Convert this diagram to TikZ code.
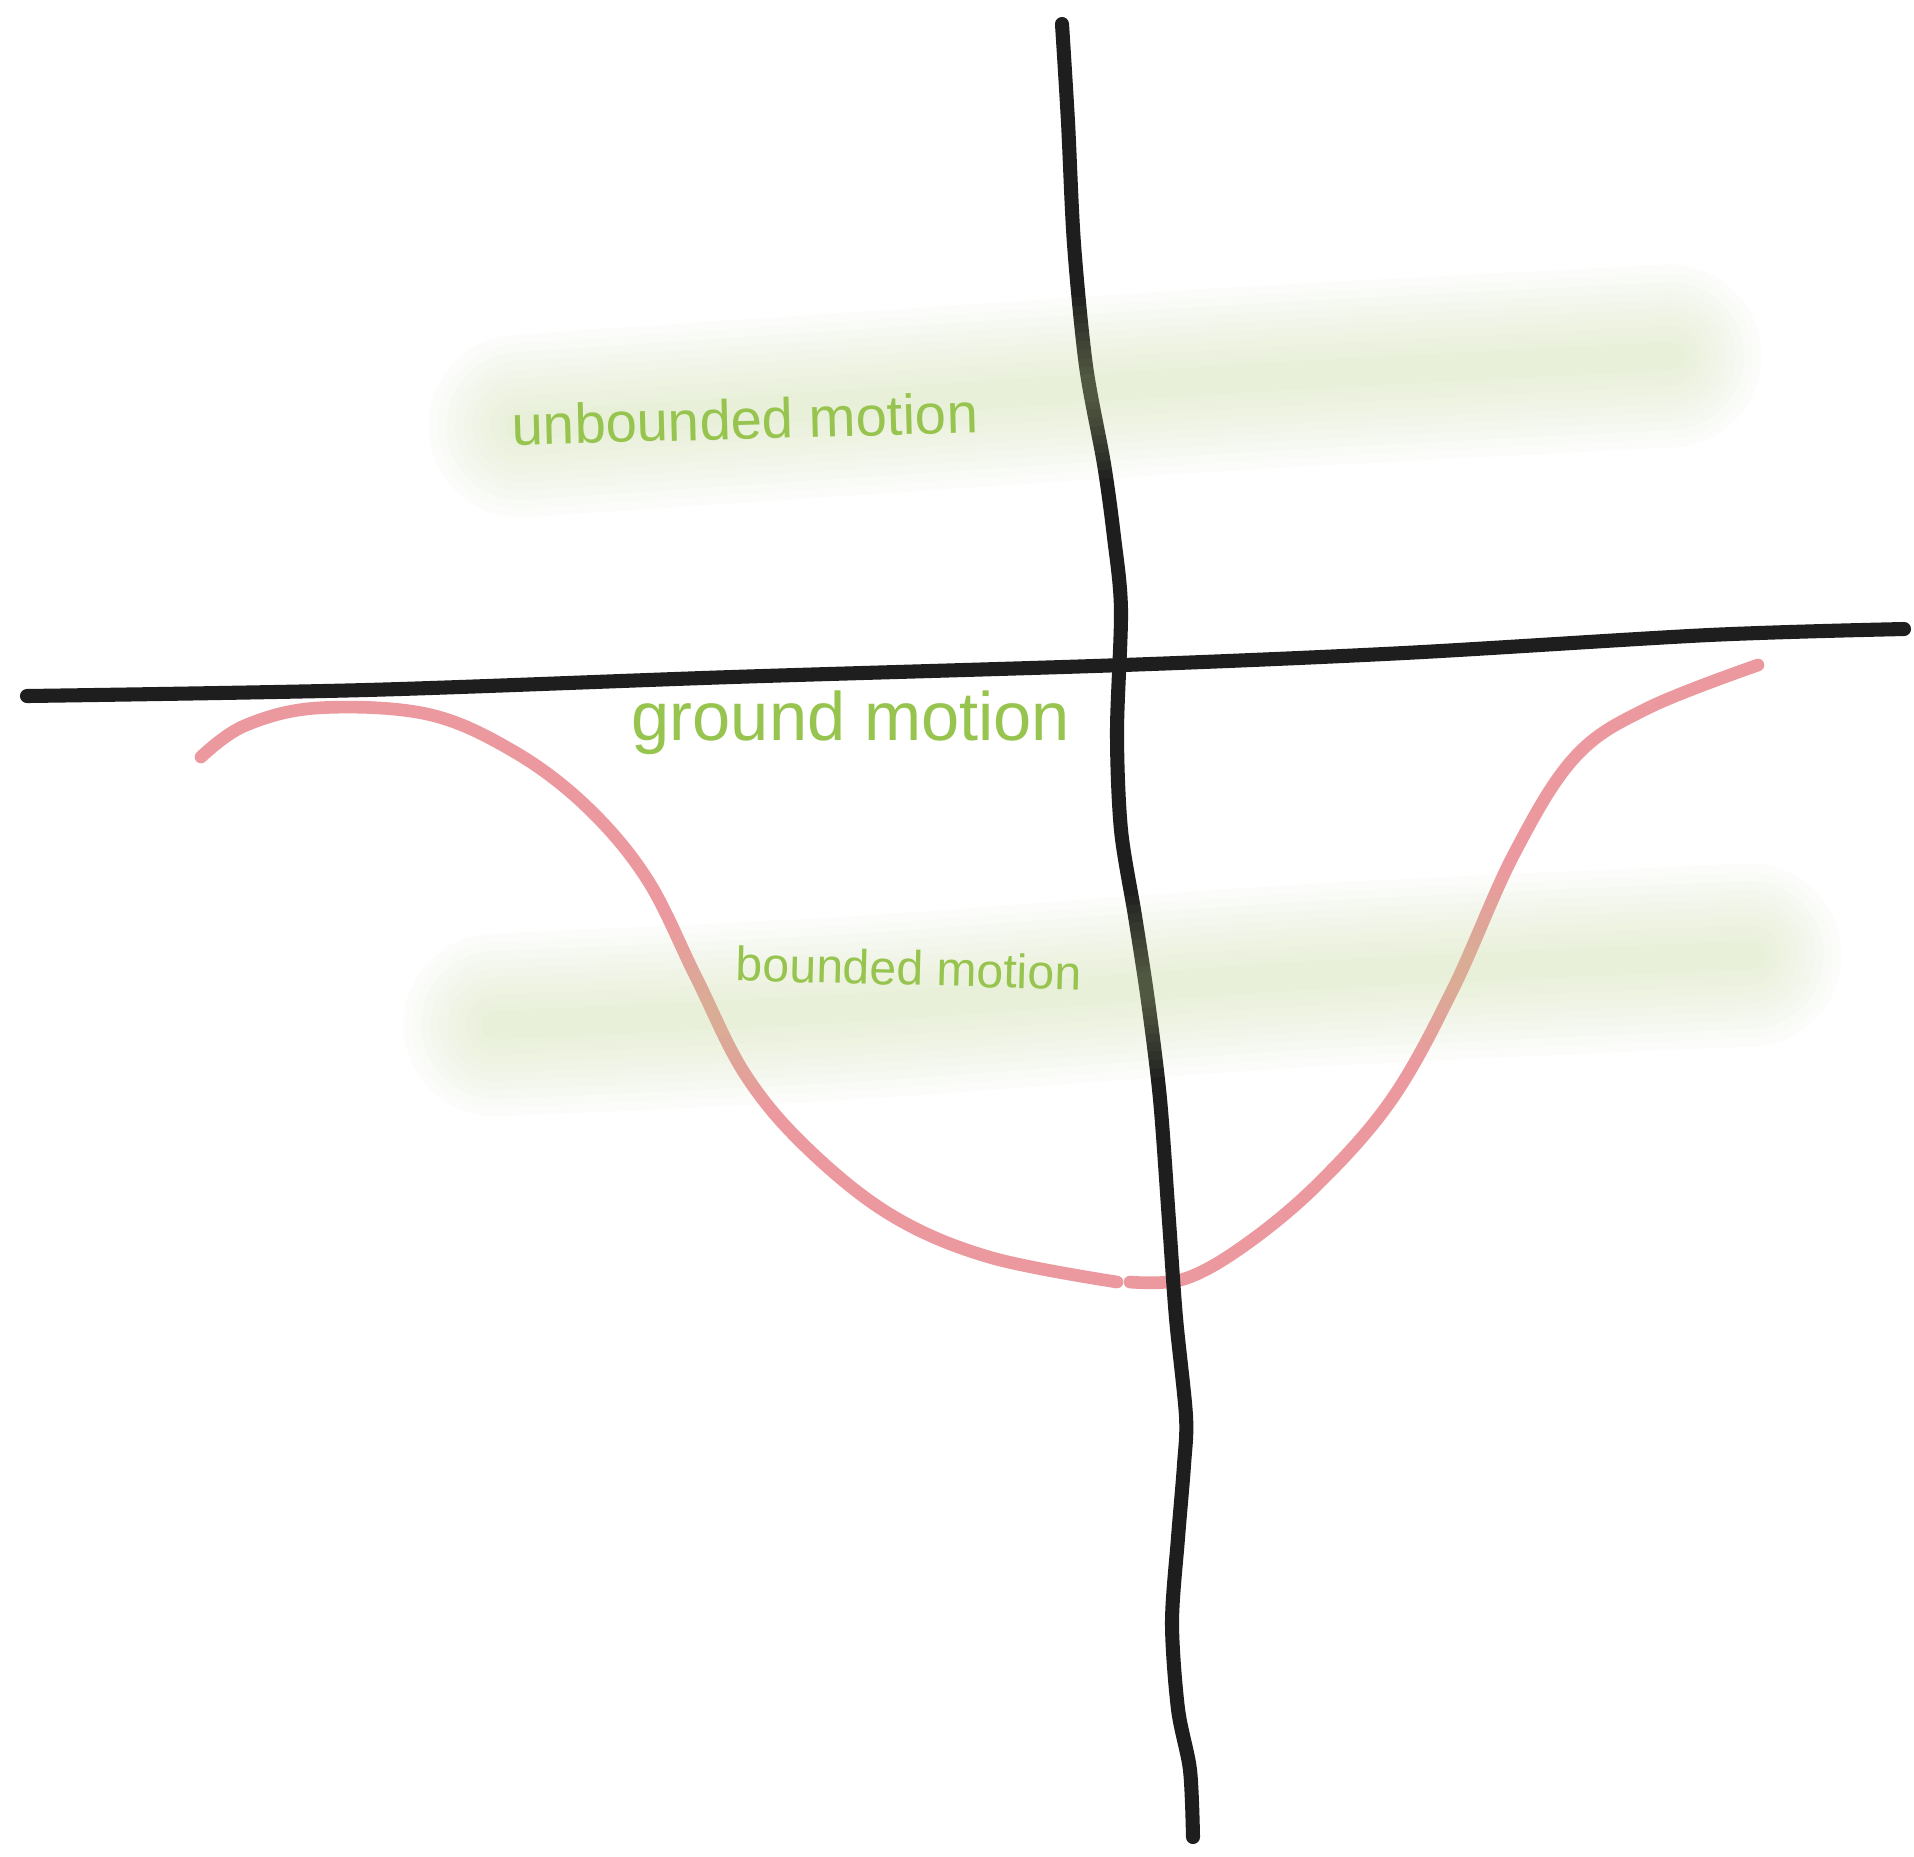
\documentclass[tikz,border=0pt]{standalone}
\usepackage{fontspec}
\setmainfont{Liberation Sans}
\definecolor{labelgreen}{RGB}{150,196,78}
\definecolor{bandgreen}{RGB}{196,220,150}
\definecolor{curvered}{RGB}{232,136,142}
\definecolor{axisblack}{RGB}{30,30,30}
\tikzset{
  axisline/.style={draw=axisblack, line width=4pt, line cap=round, line join=round},
  redcurve/.style={draw=curvered, line width=3.6pt, line cap=round, line join=round, opacity=0.85},
  bandlayer/.style={draw=bandgreen, line cap=round, opacity=0.04},
  lbl/.style={text=labelgreen, inner sep=0pt}
}
\begin{document}
\begin{tikzpicture}[x=0.01cm, y=-0.01cm]
\useasboundingbox (0,0) rectangle (1914,1856);
\fill[white] (0,0) rectangle (1914,1856);
% red potential curve
\draw[redcurve] plot[smooth, tension=0.6] coordinates {(201,757) (244,726) (317,708) (427,714) (513,751) (586,806) (647,879) (696,977) (745,1074) (806,1147) (891,1215) (989,1257) (1117,1282)};
\draw[redcurve] plot[smooth, tension=0.6] coordinates {(1130,1282) (1184,1279) (1245,1245) (1318,1184) (1392,1099) (1453,989) (1514,854) (1575,757) (1648,708) (1758,665)};
% axes
\draw[axisline] plot[smooth] coordinates {(27,696) (366,690) (732,677) (1123,665) (1404,653) (1709,635) (1904,629)};
\draw[axisline] plot[smooth] coordinates {(1062,24) (1068,122) (1074,244) (1086,366) (1104,464) (1114,537) (1121,610) (1117,732) (1121,830) (1135,916) (1148,1001) (1160,1099) (1169,1221) (1176,1318) (1186,1416) (1184,1465) (1178,1538) (1172,1623) (1178,1709) (1190,1770) (1193,1837)};
% soft green bands (drawn over the lines, as in the sketch)
\foreach \w in {52,47,42,37,32,27,22,17,12,8} {
  \draw[bandlayer, line width=\w pt] plot[smooth] coordinates {(520,426) (850,404) (1250,378) (1670,356)};
  \draw[bandlayer, line width=\w pt] plot[smooth] coordinates {(495,1025) (850,1008) (1300,976) (1750,955)};
}
% labels
\node[lbl, rotate=1.5] (unb) at (745,419) {\fontsize{16pt}{19pt}\selectfont unbounded motion};
\node[lbl] (gnd) at (851,723) {\fontsize{19.5pt}{23pt}\selectfont ground motion};
\node[lbl, rotate=-1.5] (bnd) at (909,968) {\fontsize{13.7pt}{16pt}\selectfont bounded motion};
\end{tikzpicture}
\end{document}
